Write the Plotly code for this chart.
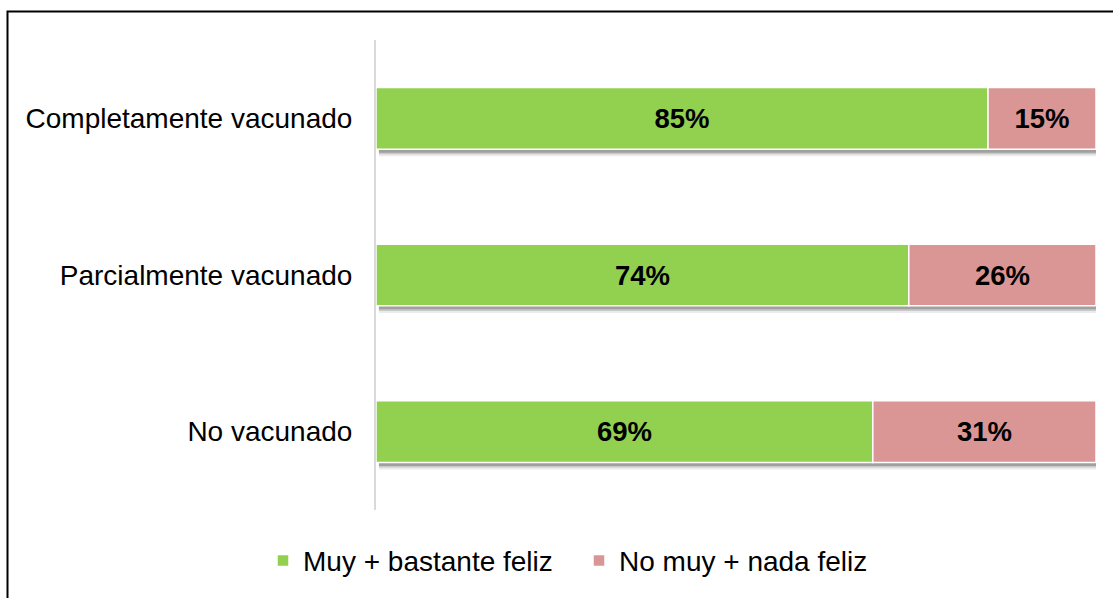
import plotly.graph_objects as go

categories = ["Completamente vacunado", "Parcialmente vacunado", "No vacunado"]
feliz = [85, 74, 69]
no_feliz = [15, 26, 31]
series_names = ["Muy + bastante feliz", "No muy + nada feliz"]
colors = ["#92D050", "#D99694"]

FONT = "Arial, Liberation Sans, sans-serif"
BAR_W = 0.394

totals = [a + b for a, b in zip(feliz, no_feliz)]

fig = go.Figure()

# soft shadow under each bar
for off, alpha in [(0.045, 0.08), (0.032, 0.14), (0.022, 0.2)]:
    fig.add_trace(go.Bar(
        y=categories, x=totals, base=[0.4] * len(totals), orientation="h",
        width=BAR_W, offset=-BAR_W / 2 + off,
        marker=dict(color=f"rgba(0,0,0,{alpha})", line=dict(width=0)),
        showlegend=False, hoverinfo="skip",
    ))

fig.add_trace(go.Bar(
    y=categories, x=feliz, base=[0] * len(feliz), orientation="h",
    name=series_names[0], width=BAR_W,
    marker=dict(color=colors[0], line=dict(color="white", width=1.5)),
    text=[f"{v}%" for v in feliz], textposition="inside", insidetextanchor="middle",
    textfont=dict(family=FONT, size=27.5, color="black", weight="bold"),
    hoverinfo="skip",
))
fig.add_trace(go.Bar(
    y=categories, x=no_feliz, base=feliz, orientation="h",
    name=series_names[1], width=BAR_W,
    marker=dict(color=colors[1], line=dict(color="white", width=1.5)),
    text=[f"{v}%" for v in no_feliz], textposition="inside", insidetextanchor="middle",
    textfont=dict(family=FONT, size=27.5, color="black", weight="bold"),
    hoverinfo="skip",
))

W, H = 1113, 598
ml, mr, mt, mb = 376, 17, 40, 86
pw, ph = W - ml - mr, H - mt - mb

def px_x(p):
    return (p - ml) / pw

def px_y(p):
    return 1 - (p - mt) / ph

fig.update_layout(
    width=W, height=H,
    margin=dict(l=ml, r=mr, t=mt, b=mb),
    barmode="overlay",
    plot_bgcolor="white", paper_bgcolor="white",
    font=dict(family=FONT, size=28, color="black"),
    xaxis=dict(range=[0, 100], visible=False, fixedrange=True),
    yaxis=dict(range=[2.5, -0.5], type="category", showline=True, linecolor="#D9D9D9",
               linewidth=2, ticks="", showgrid=False, ticklabelstandoff=16,
               tickfont=dict(family=FONT, size=28, color="black")),
    legend=dict(orientation="h", x=px_x(579), xanchor="center", y=px_y(563), yanchor="middle",
                font=dict(family=FONT, size=28, color="black"), traceorder="normal",
                entrywidth=271, itemclick=False, itemdoubleclick=False),
    showlegend=True,
    shapes=[
        dict(type="rect", xref="paper", yref="paper",
             x0=px_x(7.5), x1=px_x(1140), y0=px_y(650), y1=px_y(11.5),
             line=dict(color="black", width=2), fillcolor="rgba(0,0,0,0)", layer="above"),
    ],
)

fig.write_html("out.html", config={"displayModeBar": False},
               post_script="document.body.style.margin='0';")
